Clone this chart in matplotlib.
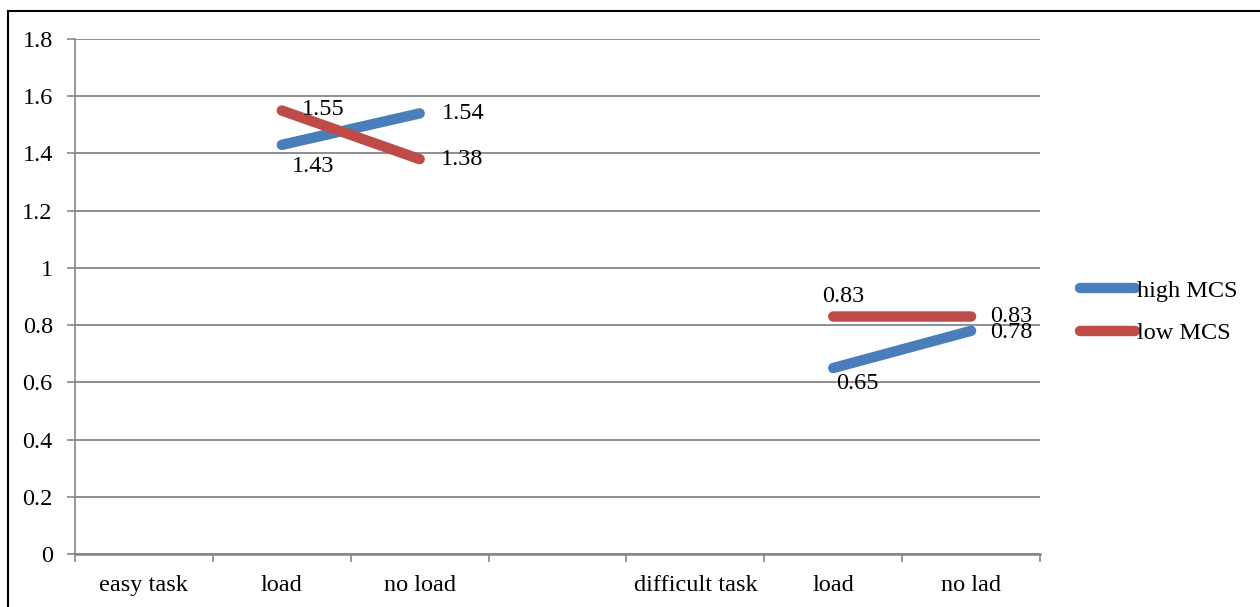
import numpy as np
import matplotlib
matplotlib.use('Agg')
import matplotlib.pyplot as plt
from matplotlib.lines import Line2D

plt.rcParams['font.family'] = ['Liberation Serif', 'DejaVu Serif']

# data
categories = ['easy task', 'load', 'no load', '', 'difficult task', 'load', 'no lad']
high_mcs = [np.nan, 1.43, 1.54, np.nan, np.nan, 0.65, 0.78]
low_mcs = [np.nan, 1.55, 1.38, np.nan, np.nan, 0.83, 0.83]
yticks = [0, 0.2, 0.4, 0.6, 0.8, 1, 1.2, 1.4, 1.6, 1.8]

# label offsets in pixels (x, y, ha)
high_offsets = {1: (31, -22, 'center'), 2: (22, 0, 'left'), 5: (24, -15, 'center'), 6: (19, -2, 'left')}
low_offsets = {1: (20, 1, 'left'), 2: (21, 0, 'left'), 5: (10, 20, 'center'), 6: (19, 0, 'left')}

blue = '#4A7EBB'
red = '#BE4B48'
grey = '#868686'
fs = 17.5

fig = plt.figure(figsize=(12.6, 6.07), dpi=100)
ax = fig.add_axes([75 / 1260, 1 - 554 / 607, 965 / 1260, 515 / 607])

x = np.arange(len(categories))
ax.plot(x, high_mcs, color=blue, lw=7.5, solid_capstyle='round', label='high MCS', zorder=3)
ax.plot(x, low_mcs, color=red, lw=7.5, solid_capstyle='round', label='low MCS', zorder=3)

for vals, offs in [(high_mcs, high_offsets), (low_mcs, low_offsets)]:
    for i, (dx, dy, ha) in offs.items():
        ax.annotate('%g' % vals[i], (x[i], vals[i]), xytext=(dx, dy),
                    textcoords='offset pixels', ha=ha, va='center', fontsize=fs, zorder=4)

ax.set_xlim(-0.5, len(categories) - 0.5)
ax.set_ylim(0, 1.8)
ax.set_yticks(yticks)
ax.set_yticklabels(['%g' % v for v in yticks], fontsize=fs)
ax.yaxis.grid(True, color=grey, lw=1.3)
ax.set_axisbelow(True)

ax.set_xticks(np.arange(-0.5, len(categories)), labels=[])
ax.set_xticks(x, minor=True)
ax.set_xticklabels(categories, minor=True, fontsize=fs)
ax.tick_params(axis='x', which='major', length=6, color=grey, width=1.2)
ax.tick_params(axis='x', which='minor', length=0, pad=15)
ax.tick_params(axis='y', length=6, color=grey, width=1.2, pad=10)

for s in ['top', 'right']:
    ax.spines[s].set_visible(False)
ax.spines['left'].set_color(grey)
ax.spines['left'].set_linewidth(1.2)
ax.spines['bottom'].set_color(grey)
ax.spines['bottom'].set_linewidth(1.8)

fig.legend(loc='center left', bbox_to_anchor=(1058 / 1260, 1 - 312 / 607), frameon=False,
           fontsize=fs, handlelength=2.25, handletextpad=0.1, labelspacing=0.85)

# outer border (left and top visible)
bx = 7.5 / 1260
by = 1 - 10.5 / 607
fig.add_artist(Line2D([bx, bx], [0, by], color='black', lw=1.5, transform=fig.transFigure))
fig.add_artist(Line2D([bx, 1], [by, by], color='black', lw=1.5, transform=fig.transFigure))

fig.savefig('out.png', dpi=100)
